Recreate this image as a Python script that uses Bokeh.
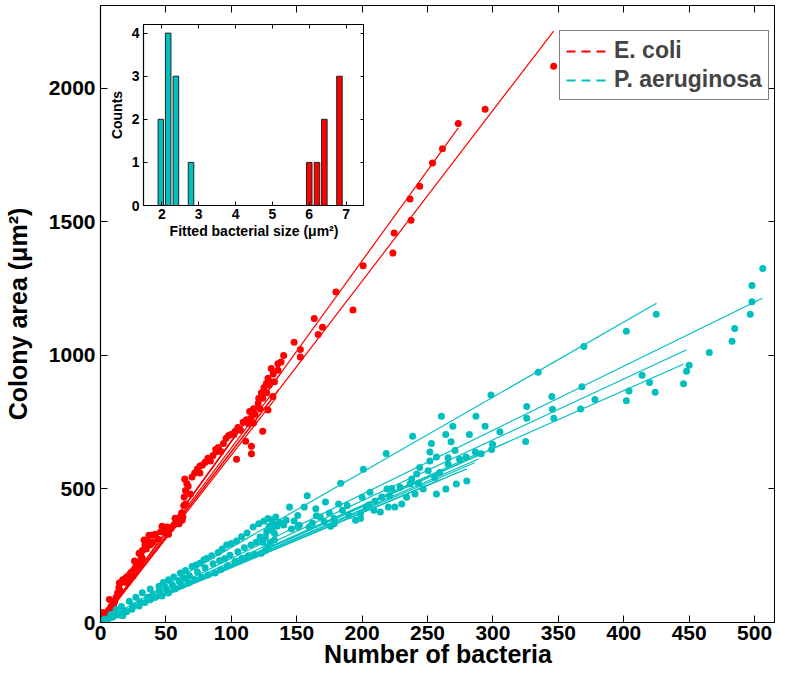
from bokeh.plotting import figure
from bokeh.models import (Range1d, LinearAxis, FixedTicker, Legend, LegendItem, Column)
from bokeh.embed import file_html
from bokeh.resources import INLINE

RED = "#ff0000"
CYAN = "#00bfbf"
FONT = "Liberation Sans"

# ---------------- data ----------------
ecoli_n = [1, 1.7, 2, 3, 4, 5, 5, 6, 6.8, 7, 8, 9, 10, 10, 11, 12, 13, 14, 14.4, 15, 16, 17, 18, 19, 20, 20, 21, 22, 23, 24,
           25, 26, 26, 27, 28, 29.5, 30, 30.8, 31, 32, 32, 33.3, 34, 35, 36, 37, 38, 39.6, 40, 42, 44, 46, 47, 48.5, 50, 51,
           52, 54, 56, 57, 58, 60, 61, 62.4, 62, 63, 63.6, 64, 64.4, 65, 65, 66, 67, 68.7, 70,
           72, 74, 76, 76, 78, 80, 82, 84, 86, 88, 89, 90, 92, 94, 96, 98, 100, 102, 103, 104, 105, 107, 109, 111, 111.6,
           113, 114, 115, 115.4, 115.4, 117, 117, 118, 120.5, 121, 122, 123, 124, 124, 125, 126.8, 127, 128, 128, 129,
           130.5, 130, 131.8, 132, 133, 135.6, 135.6, 138, 140,
           148, 152.8, 152.8, 163.4, 166.4, 169.7, 180, 193, 200.8, 223.5, 224.5, 237.4, 236.6, 244, 253.8, 261.4, 273.5,
           294, 346.4]
ecoli_area = [8, 37, 15, 25, 30, 35, 25, 45, 86, 50, 60, 62, 70, 60, 80, 95, 110, 130, 148, 120, 150, 160, 160, 165, 170, 150,
              168, 178, 185, 190, 175, 200, 230, 210, 220, 259, 215, 234, 250, 270, 240, 309, 290, 275, 305, 327, 290, 327,
              300, 330, 312, 340, 360, 346, 335, 358, 330, 352, 364, 390, 372, 370, 395, 383, 410, 395, 438, 470, 537, 494,
              444, 520, 510, 481, 545,
              560, 575, 586, 560, 590, 600, 615, 605, 625, 648, 640, 655, 640, 670, 690, 700, 705, 704, 716, 611, 730, 720,
              750, 679, 759, 745, 790, 765, 660, 632, 747, 800, 780, 821, 840, 800, 860, 716, 840, 880, 895, 860, 914, 796,
              889, 951, 900, 846, 930, 901, 969, 944, 975, 1000,
              1049, 1022, 994, 1138, 1078, 1105, 1237, 1170, 1336, 1383, 1458, 1506, 1586, 1633, 1720, 1774, 1868,
              1922, 2083]

pa_n = [3, 8, 12, 16, 22, 27, 32, 38, 44.7, 48, 52, 56, 61, 65, 70, 73, 76, 79, 81.3, 85, 90, 93, 96.4, 100, 104, 107.8,
        112, 116.7, 121, 125, 128, 131, 134,
        2, 6, 10, 14, 17, 20, 24, 29.5, 34, 38, 42, 47, 52, 57, 62, 67.4, 72, 77, 82, 87.6, 92, 97, 103, 108, 113, 118,
        123, 126, 128, 130, 133, 133, 131, 129, 126, 124,
        5, 9, 13, 18, 25, 30, 36, 40, 45, 50, 55, 60, 64, 68, 74, 80, 86, 91, 95, 99, 105, 110, 115, 119, 122, 127, 130,
        132, 135, 137,
        142, 144.5, 150.8, 152, 155.8, 158, 159.6, 164.6, 171, 172, 178.6, 182, 183.6, 188.6, 195, 198.7, 200, 201, 206,
        209, 213.9, 218.4, 219, 220, 221, 222.7, 225, 229, 230.3, 165, 175, 185, 190, 205, 210, 215, 168, 162, 176, 148,
        140, 146, 203, 150.8, 178.6, 198.7,
        234, 236.6, 237.9, 238.6, 240.4, 241.7, 243, 244, 246.7, 250.5, 251.8, 251.8, 253, 255.5, 256.8, 259.3, 260.6,
        263.9, 265.7, 265.7, 268, 269.4, 271, 274.5, 279.5, 282, 286.6, 287, 291, 294, 298.5, 299, 299.7, 305.3,
        256.8, 264, 272, 280,
        325, 325.8, 325.8, 334.6, 345, 345.5, 346.5, 367, 368, 369.5, 378, 402, 402, 404, 414, 419.7, 424, 424.8, 445.7,
        448, 450, 465.4, 482.8, 484.8, 496.7, 498, 498, 506.3]
pa_area = [12, 30, 49, 60, 80, 95, 111, 125, 136, 150, 160, 170, 185, 195, 210, 215, 222, 235, 241, 250, 262, 275, 290, 296,
           305, 321, 335, 358, 370, 380, 389, 385, 395,
           5, 15, 22, 28, 25, 40, 50, 62, 75, 85, 95, 99, 110, 125, 138, 148, 160, 170, 178, 185, 198, 212, 228, 240, 250,
           255, 259, 270, 285, 300, 309, 333, 345, 360, 320, 300,
           10, 20, 35, 45, 62, 78, 95, 105, 118, 128, 140, 155, 165, 175, 190, 205, 220, 232, 240, 252, 265, 280, 290, 300,
           320, 340, 355, 370, 360, 375,
           383, 432, 401, 364, 432, 475, 358, 426, 377, 451, 389, 444, 521, 438, 383, 407, 469, 574, 488, 420, 414, 633,
           500, 432, 475, 502, 432, 506, 444, 400, 410, 420, 400, 440, 455, 470, 395, 372, 360, 380, 365, 350, 430, 358,
           370, 389,
           469, 519, 537, 697, 481, 556, 521, 580, 500, 568, 605, 638, 670, 543, 620, 562, 772, 704, 617, 593, 677, 735,
           644, 611, 620, 704, 638, 772, 632, 735, 852, 648, 667, 714,
           481, 500, 519, 530,
           678, 809, 765, 937, 846, 798, 765, 799, 883, 1033, 835, 1090, 830, 867, 926, 899, 862, 1154, 894, 941, 963,
           1011, 1053, 1101, 1154, 1201, 1262, 1325]

# fitted lines (one per colony), from the origin to the last measured colony
ecoli_fit_end_n = [346.4, 273.5, 134.3, 136, 130, 138, 128]
ecoli_fit_end_area = [2214, 1852, 842, 870, 850, 935, 870]
pa_fit_end_n = [425, 506, 448, 445.5, 291, 289, 286, 280, 292, 260]
pa_fit_end_area = [1195, 1214, 1021, 967, 630, 612, 598, 575, 640, 535]

# inset histogram of fitted bacterial size
hist_pa_size = [1.97, 2.17, 2.38, 2.79]
hist_pa_count = [2, 4, 3, 1]
hist_ec_size = [6.0, 6.21, 6.41, 6.82]
hist_ec_count = [1, 1, 2, 3]
hist_bar_width = 0.15

x_ticks = [0, 50, 100, 150, 200, 250, 300, 350, 400, 450, 500]
y_ticks = [0, 500, 1000, 1500, 2000]
inset_x_ticks = [2, 3, 4, 5, 6, 7]
inset_y_ticks = [0, 1, 2, 3, 4]

LEFT_BORDER = 100


def style_axis(ax, ticks, tick_len, label_size, title_size, show=True):
    ax.ticker = FixedTicker(ticks=ticks, minor_ticks=[])
    ax.major_tick_in = tick_len
    ax.major_tick_out = 0
    ax.minor_tick_in = 0
    ax.minor_tick_out = 0
    ax.axis_line_color = "black"
    ax.axis_line_width = 1.2
    ax.major_tick_line_color = "black"
    ax.major_tick_line_width = 1
    ax.major_label_text_font = FONT
    ax.major_label_text_font_style = "bold"
    ax.major_label_text_color = "black"
    ax.axis_label_text_font = FONT
    ax.axis_label_text_font_style = "bold"
    ax.axis_label_text_color = "black"
    ax.axis_label_text_font_size = title_size
    ax.major_label_text_font_size = label_size
    if not show:
        ax.major_label_overrides = {t: "" for t in ticks}
        ax.major_label_standoff = 0
        ax.axis_label_standoff = 0


# ---------------- main plot ----------------
p = figure(width=775, height=670, x_range=Range1d(0, 516), y_range=Range1d(0, 2310),
           output_backend="svg", toolbar_location=None,
           x_axis_label="Number of bacteria", y_axis_label="Colony area (μm²)",
           min_border_left=LEFT_BORDER, min_border_right=0, min_border_top=5, min_border_bottom=20)
p.grid.visible = False
p.outline_line_color = "black"
p.background_fill_color = "white"
p.border_fill_color = "white"

style_axis(p.xaxis[0], x_ticks, 7, "21px", "25px")
style_axis(p.yaxis[0], y_ticks, 7, "21px", "25px")
p.xaxis[0].major_label_standoff = 3
p.xaxis[0].axis_label_standoff = -3
p.yaxis[0].major_label_standoff = 5
p.yaxis[0].axis_label_standoff = 14

top_ax = LinearAxis()
style_axis(top_ax, x_ticks, 7, "1px", "1px", show=False)
p.add_layout(top_ax, "above")
right_ax = LinearAxis()
style_axis(right_ax, y_ticks, 7, "1px", "1px", show=False)
p.add_layout(right_ax, "right")

p.segment(x0=[0] * len(ecoli_fit_end_n), y0=[0] * len(ecoli_fit_end_n),
          x1=ecoli_fit_end_n, y1=ecoli_fit_end_area, line_color=RED, line_width=1.2)
p.segment(x0=[0] * len(pa_fit_end_n), y0=[0] * len(pa_fit_end_n),
          x1=pa_fit_end_n, y1=pa_fit_end_area, line_color=CYAN, line_width=1.2)
p.scatter(ecoli_n, ecoli_area, size=7, fill_color=RED, line_color=None)
p.scatter(pa_n, pa_area, size=7, fill_color=CYAN, line_color=None)

nan = float("nan")
leg_ec = p.line([nan], [nan], line_color=RED, line_width=2, line_dash="9 6")
leg_pa = p.line([nan], [nan], line_color=CYAN, line_width=2, line_dash="9 6")
legend = Legend(items=[LegendItem(label="E. coli", renderers=[leg_ec]),
                       LegendItem(label="P. aeruginosa", renderers=[leg_pa])],
                location=(459, 522))
legend.margin = 0
legend.padding = 6
legend.spacing = 2
legend.glyph_width = 44
legend.label_standoff = 4
legend.label_text_font = FONT
legend.label_text_font_style = "bold"
legend.label_text_font_size = "23px"
legend.border_line_color = "black"
legend.border_line_width = 1
legend.background_fill_alpha = 1
p.add_layout(legend)

# ---------------- inset histogram ----------------
q = figure(frame_width=221, frame_height=181, x_range=Range1d(1.5, 7.5), y_range=Range1d(0, 4.2),
           output_backend="svg", toolbar_location=None,
           x_axis_label="Fitted bacterial size (μm²)", y_axis_label="Counts",
           min_border_left=LEFT_BORDER, min_border_right=0, min_border_top=0, min_border_bottom=36)
q.grid.visible = False
q.outline_line_color = "black"
q.border_fill_alpha = 0
q.background_fill_color = "white"
style_axis(q.xaxis[0], inset_x_ticks, 4, "14px", "14px")
style_axis(q.yaxis[0], inset_y_ticks, 4, "14px", "14px")
q.xaxis[0].major_label_standoff = 3
q.xaxis[0].axis_label_standoff = 1
q.yaxis[0].major_label_standoff = 4
q.yaxis[0].axis_label_standoff = 4
q_top = LinearAxis()
style_axis(q_top, inset_x_ticks, 4, "1px", "1px", show=False)
q.add_layout(q_top, "above")
q_right = LinearAxis()
style_axis(q_right, inset_y_ticks, 4, "1px", "1px", show=False)
q.add_layout(q_right, "right")

q.vbar(x=hist_pa_size, top=hist_pa_count, width=hist_bar_width, fill_color=CYAN,
       line_color="#222222", line_width=1)
q.vbar(x=hist_ec_size, top=hist_ec_count, width=hist_bar_width, fill_color=RED,
       line_color="#222222", line_width=1)

q.styles = {"position": "absolute", "left": "43px", "top": "24px"}

layout = Column(children=[p, q], styles={"position": "relative"})

open("out.html", "w").write(file_html(layout, INLINE))
